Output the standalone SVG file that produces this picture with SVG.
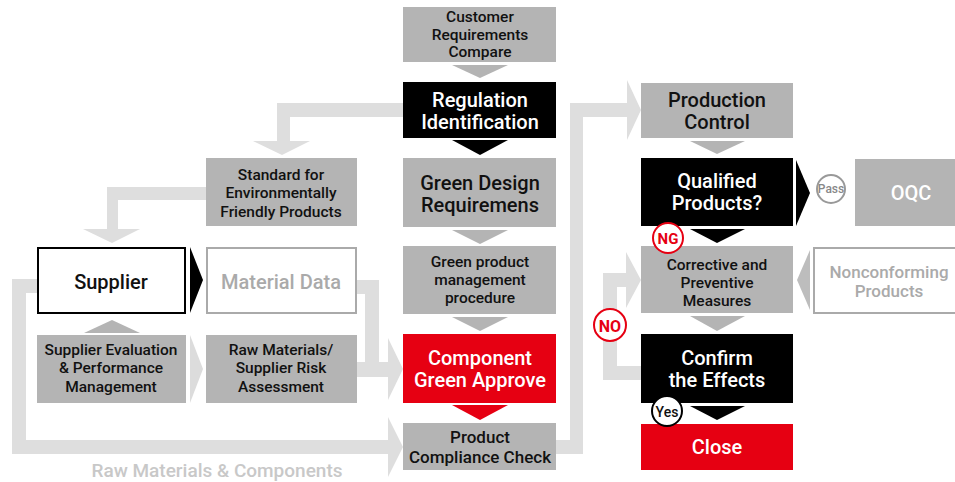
<svg xmlns="http://www.w3.org/2000/svg" width="955" height="482" viewBox="0 0 955 482">
<style>
text{font-family:Roboto,"Liberation Sans",sans-serif;font-weight:500;text-anchor:middle;dominant-baseline:central}
.g{fill:#b4b4b4}
.k{fill:#000}
.r{fill:#e60012}
.dk{fill:#111}
.wt{fill:#fff}
.conn{fill:#dedede}
.t16{font-size:15.5px}
.t17{font-size:17px}
.t20{font-size:20px}
</style>
<rect width="955" height="482" fill="#fff"/>
<g id="connectors">
  <path class="conn" d="M403,103 H277 V141 H253 L282,155 L310,141 H290 V117 H403 Z"/>
  <path class="conn" d="M206,187 H107 V229 H83 L112,243 L140,229 H118 V200 H206 Z"/>
  <path class="conn" d="M357,280 H379 V362 H388 V338 L403,369 L388,400 V377 H357 V362 H365 V294 H357 Z"/>
  <path class="conn" d="M37,279 H12 V454 H388 V477 L403,447 L388,417 V440 H26 V293 H37 Z"/>
  <path class="conn" d="M556,440 H570 V103 H627 V80 L641,110 L627,140 V117 H583 V454 H556 Z"/>
  <path class="conn" d="M641,366 H617 V287 H626 V308 L641,280 L626,252 V273 H603 V380 H641 Z"/>
  <polygon class="g" points="452,65 508,65 480,78"/>
  <polygon class="k" points="452,140 508,140 480,155"/>
  <polygon class="g" points="452,230 508,230 480,244"/>
  <polygon class="g" points="452,317 508,317 480,331"/>
  <polygon class="r" points="452,405 508,405 480,420"/>
  <polygon class="k" points="190,247 203,280 190,313"/>
  <polygon class="g" points="84,333 140,333 112,320"/>
  <polygon fill="#dcdcdc" points="190,335 203,369 190,403"/>
  <polygon class="g" points="690,141 745,141 717,154"/>
  <polygon class="k" points="796,160 810,193 796,226"/>
  <polygon class="k" points="690,229 745,229 717,243"/>
  <polygon fill="#bdbdbd" points="810,250 797,280 810,310"/>
  <polygon class="g" points="690,316 745,316 717,331"/>
  <polygon class="k" points="690,406 745,406 717,420"/>
</g>
<g id="customer"><rect class="g" x="403" y="7" width="153" height="55"/>
  <text class="dk t16" x="480" y="17">Customer</text><text class="dk t16" x="480" y="35">Requirements</text><text class="dk t16" x="480" y="52">Compare</text></g>
<g id="regulation"><rect class="k" x="403" y="82" width="153" height="56"/>
  <text class="wt t20" x="480" y="100">Regulation</text><text class="wt t20" x="480" y="122">Identification</text></g>
<g id="greendesign"><rect class="g" x="403" y="158" width="153" height="69"/>
  <text class="dk t20" x="480" y="183">Green Design</text><text class="dk t20" x="480" y="205">Requiremens</text></g>
<g id="procedure"><rect class="g" x="403" y="246" width="153" height="68"/>
  <text class="dk t16" x="480" y="262">Green product</text><text class="dk t16" x="480" y="280">management</text><text class="dk t16" x="480" y="298">procedure</text></g>
<g id="approve"><rect class="r" x="403" y="334" width="153" height="69"/>
  <text class="wt t20" x="480" y="358">Component</text><text class="wt t20" x="480" y="380">Green Approve</text></g>
<g id="compliance"><rect class="g" x="403" y="423" width="153" height="47"/>
  <text class="dk t17" x="480" y="437">Product</text><text class="dk t17" x="480" y="457">Compliance Check</text></g>
<g id="standard"><rect class="g" x="206" y="158" width="151" height="68"/>
  <text class="dk t16" x="281" y="175">Standard for</text><text class="dk t16" x="281" y="193">Environmentally</text><text class="dk t16" x="281" y="212">Friendly Products</text></g>
<g id="supplier"><rect x="38" y="248" width="147" height="65" fill="#fff" stroke="#000" stroke-width="2"/>
  <text class="dk t20" x="111" y="282">Supplier</text></g>
<g id="materialdata"><rect x="207" y="248" width="149" height="65" fill="#fff" stroke="#aaa" stroke-width="2"/>
  <text class="t20" fill="#aaa" x="281" y="282">Material Data</text></g>
<g id="evaluation"><rect class="g" x="37" y="335" width="149" height="68"/>
  <text class="dk t16" x="111" y="350">Supplier Evaluation</text><text class="dk t16" x="111" y="368">&amp; Performance</text><text class="dk t16" x="111" y="387">Management</text></g>
<g id="risk"><rect class="g" x="206" y="335" width="151" height="68"/>
  <text class="dk t16" x="281" y="350">Raw Materials/</text><text class="dk t16" x="281" y="368">Supplier Risk</text><text class="dk t16" x="281" y="387">Assessment</text></g>
<text fill="#c8c8c8" style="font-size:19px" x="217" y="470">Raw Materials &amp; Components</text>
<g id="production"><rect class="g" x="641" y="83" width="152" height="55"/>
  <text class="dk t20" x="717" y="100">Production</text><text class="dk t20" x="717" y="122">Control</text></g>
<g id="qualified"><rect class="k" x="641" y="158" width="152" height="68"/>
  <text class="wt t20" x="717" y="181">Qualified</text><text class="wt t20" x="717" y="203">Products?</text></g>
<g id="pass"><circle cx="831" cy="189" r="14" fill="#fff" stroke="#999" stroke-width="2"/>
  <text fill="#888" style="font-size:12px" x="831" y="189">Pass</text></g>
<g id="oqc"><rect class="g" x="855" y="159" width="100" height="67"/>
  <text class="wt t20" x="911" y="193">OQC</text></g>
<g id="corrective"><rect class="g" x="641" y="246" width="152" height="67"/>
  <text class="dk t16" x="717" y="265">Corrective and</text><text class="dk t16" x="717" y="283">Preventive</text><text class="dk t16" x="717" y="301">Measures</text></g>
<g id="ng"><circle cx="668" cy="238" r="15" fill="#fff" stroke="#e60012" stroke-width="2"/>
  <text fill="#e60012" style="font-size:15px;font-weight:bold" x="668" y="239">NG</text></g>
<g id="nonconforming"><rect x="814" y="248" width="142" height="65" fill="#fff" stroke="#aaa" stroke-width="2"/>
  <text fill="#aaa" style="font-size:17px" x="889" y="272">Nonconforming</text><text fill="#aaa" style="font-size:17px" x="889" y="291">Products</text></g>
<g id="confirm"><rect class="k" x="641" y="334" width="152" height="69"/>
  <text class="wt t20" x="717" y="358">Confirm</text><text class="wt t20" x="717" y="380">the Effects</text></g>
<g id="no"><circle cx="610" cy="325" r="16" fill="#fff" stroke="#e60012" stroke-width="2"/>
  <text fill="#e60012" style="font-size:16px;font-weight:bold" x="610" y="326">NO</text></g>
<g id="close"><rect class="r" x="641" y="424" width="152" height="46"/>
  <text class="wt t20" x="717" y="447">Close</text></g>
<g id="yes"><circle cx="667" cy="411" r="15" fill="#fff" stroke="#000" stroke-width="2"/>
  <text class="dk" style="font-size:14px" x="667" y="412">Yes</text></g>
</svg>
